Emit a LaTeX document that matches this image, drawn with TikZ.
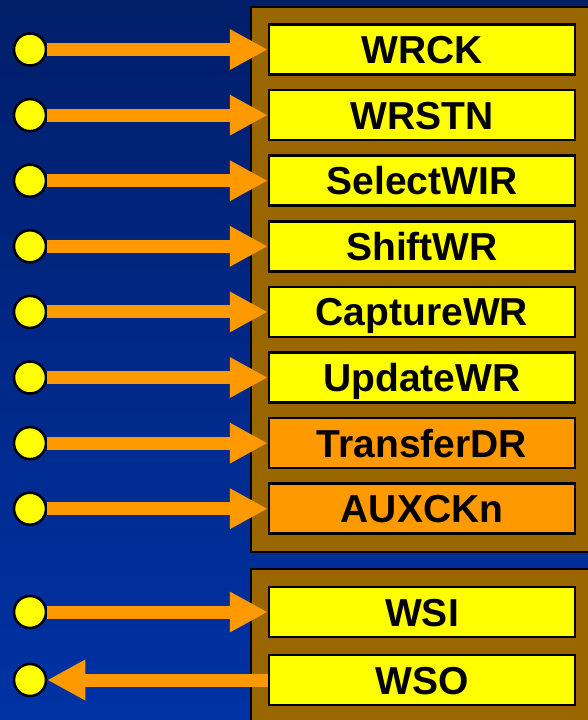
\documentclass[tikz,border=0pt]{standalone}
\usepackage{fontspec}
\setmainfont{Liberation Sans}
\usetikzlibrary{arrows.meta}
\definecolor{bgtop}{RGB}{0,30,105}
\definecolor{bgbot}{RGB}{0,50,165}
\definecolor{brownbox}{RGB}{153,102,0}
\definecolor{sigyellow}{RGB}{255,255,0}
\definecolor{sigorange}{RGB}{255,153,0}
\tikzset{
  panel/.style={draw=black, line width=2.5pt, fill=brownbox},
  sigbox/.style={draw=black, line width=2.5pt, fill=sigyellow, minimum width=306pt, minimum height=50pt, inner sep=0pt, text height=28pt, text depth=0pt, font=\fontsize{39}{39}\selectfont\bfseries},
  auxbox/.style={sigbox, fill=sigorange},
  pin/.style={circle, draw=black, line width=2.5pt, fill=sigyellow, minimum size=32pt, inner sep=0pt},
  sigarrow/.style={draw=sigorange, line width=13pt, -{Triangle[length=38pt 0 0, width=38pt 0 0]}}
}
\begin{document}
\begin{tikzpicture}[x=1pt, y=-1pt]
\useasboundingbox (0,0) rectangle (588,720);
\clip (0,0) rectangle (588,720);
\shade[top color=bgtop, bottom color=bgbot] (0,0) rectangle (588,720);
\draw[panel] (251,7) rectangle (620,552);
\draw[panel] (251,569) rectangle (620,740);
% signal boxes
\node[sigbox] (b1) at (422,49.5) {WRCK};
\node[sigbox] (b2) at (422,115.1) {WRSTN};
\node[sigbox] (b3) at (422,180.7) {SelectWIR};
\node[sigbox] (b4) at (422,246.3) {ShiftWR};
\node[sigbox] (b5) at (422,311.9) {CaptureWR};
\node[sigbox] (b6) at (422,377.5) {UpdateWR};
\node[auxbox] (b7) at (422,443.1) {TransferDR};
\node[auxbox] (b8) at (422,508.7) {AUXCKn};
\node[sigbox] (b9) at (422,612) {WSI};
\node[sigbox] (b10) at (422,680) {WSO};
% pins
\foreach \i/\y in {1/49.5,2/115.1,3/180.7,4/246.3,5/311.9,6/377.5,7/443.1,8/508.7,9/612,10/680}{
  \node[pin] (p\i) at (30,\y) {};
}
\foreach \i in {1,...,9}{
  \draw[sigarrow] (p\i.east) -- (b\i.west);
}
\draw[sigarrow] (b10.west) -- (p10.east);
\end{tikzpicture}
\end{document}
